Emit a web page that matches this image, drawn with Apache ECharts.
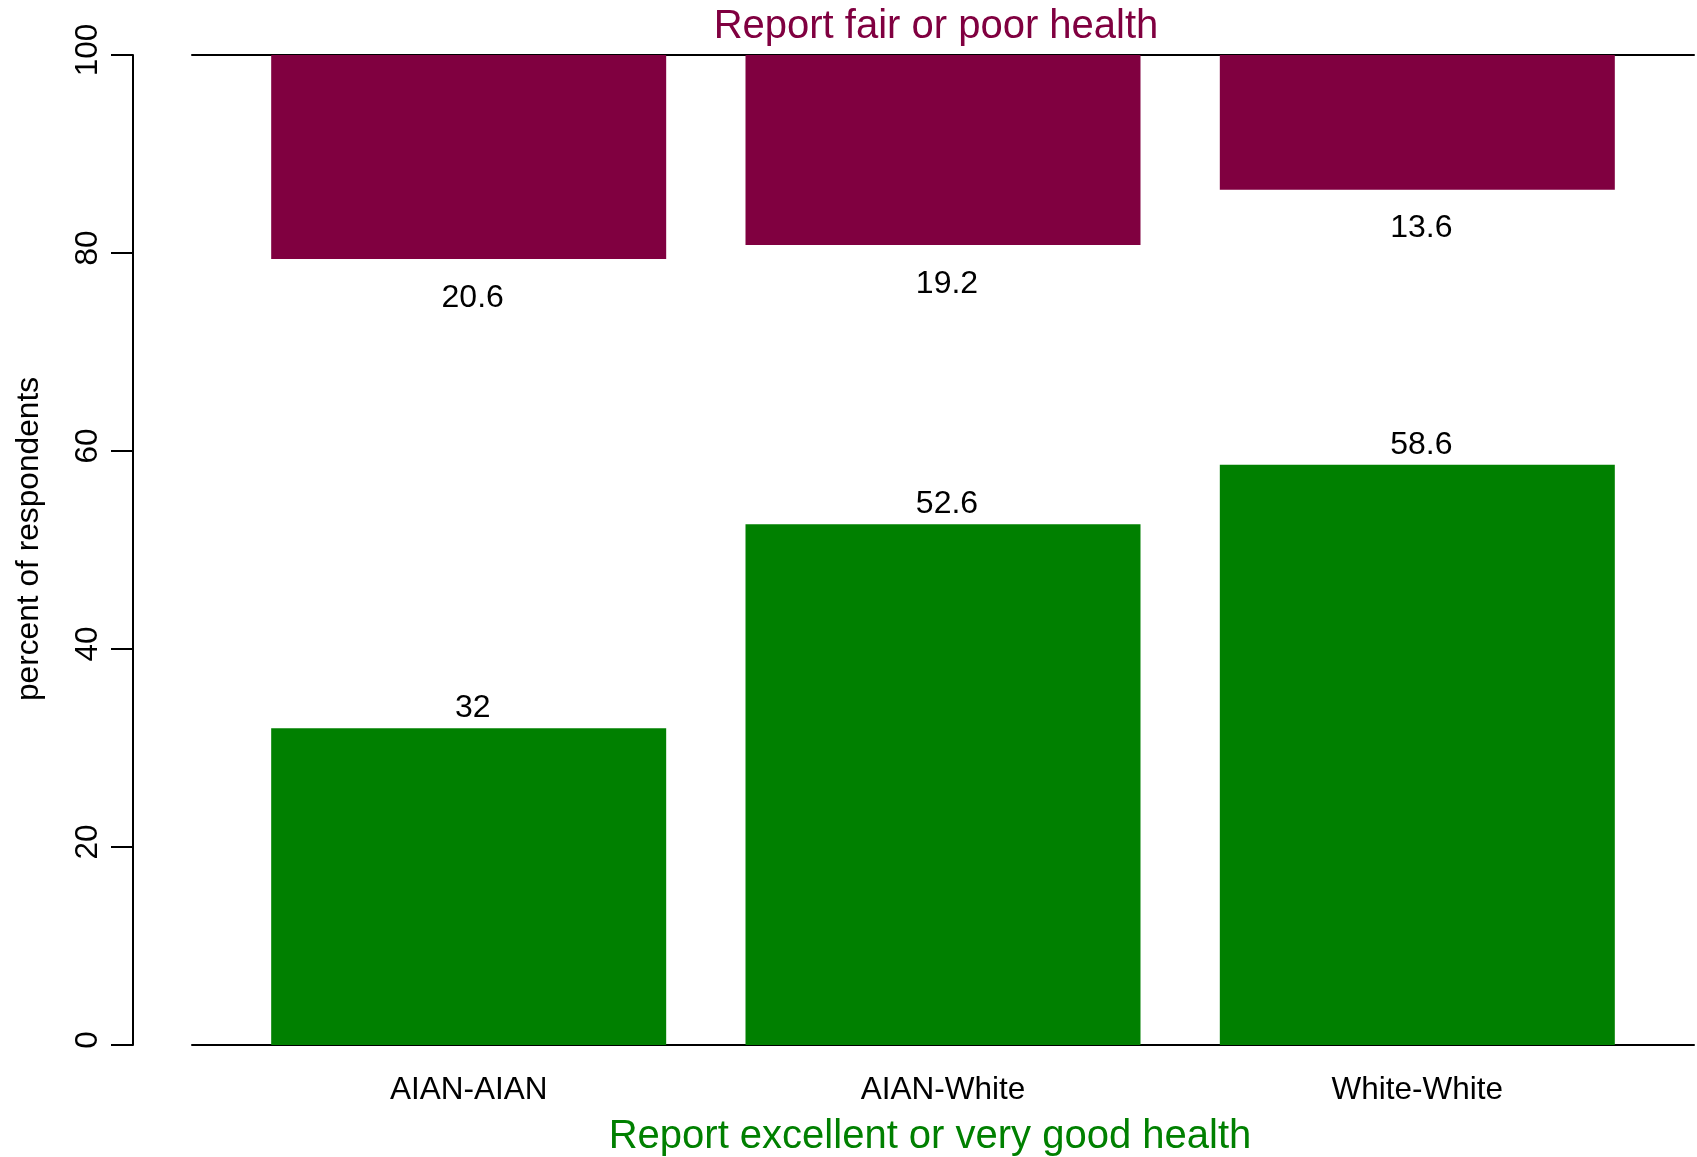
<!DOCTYPE html>
<html>
<head>
<meta charset="utf-8">
<script src="https://cdn.jsdelivr.net/npm/echarts@6/dist/echarts.min.js"></script>
<style>
html,body{margin:0;padding:0;background:#fff;}
#chart{width:1697px;height:1157px;}
</style>
</head>
<body>
<div id="chart"></div>
<script>
// ---- data ----
const categories = ['AIAN-AIAN', 'AIAN-White', 'White-White'];
const excellentVeryGood = [32, 52.6, 58.6];
const fairPoor = [20.6, 19.2, 13.6];
const yTickLabels = [0, 20, 40, 60, 80, 100];
const topTitle = 'Report fair or poor health';
const bottomTitle = 'Report excellent or very good health';
const yName = 'percent of respondents';

// barplot layout (space = 0.2 bar widths)
const SPACE = 0.2;
const barPos = categories.map((c, i) => SPACE + 0.5 + i * (1 + SPACE));
const xMax = categories.length * (1 + SPACE) + SPACE;

const FONT = "'Liberation Sans', Arial, sans-serif";
const MAROON = '#800040';
const GREEN = '#008000';

const chart = echarts.init(document.getElementById('chart'));
chart.setOption({
  animation: false,
  backgroundColor: '#fff',
  textStyle: { fontFamily: FONT },
  title: [
    { text: topTitle, left: 936, top: 7, textAlign: 'center', padding: 0,
      textStyle: { color: MAROON, fontSize: 40, fontWeight: 'normal', fontFamily: FONT } },
    { text: bottomTitle, left: 930, top: 1117, textAlign: 'center', padding: 0,
      textStyle: { color: GREEN, fontSize: 40, fontWeight: 'normal', fontFamily: FONT } }
  ],
  grid: { left: 192, right: 3, top: 55, bottom: 112, containLabel: false },
  xAxis: [
    {
      type: 'value', min: 0, max: xMax, position: 'bottom',
      splitLine: { show: false },
      axisLine: { show: true, onZero: false, lineStyle: { color: '#000', width: 2 } },
      axisTick: { show: false },
      axisLabel: {
        customValues: barPos,
        margin: 29,
        fontSize: 31.5, color: '#000', fontFamily: FONT,
        formatter: v => {
          const i = barPos.findIndex(p => Math.abs(p - v) < 1e-6);
          return i >= 0 ? categories[i] : '';
        }
      }
    },
    {
      type: 'value', min: 0, max: xMax, position: 'top',
      splitLine: { show: false },
      axisLine: { show: true, onZero: false, lineStyle: { color: '#000', width: 2 } },
      axisTick: { show: false },
      axisLabel: { show: false }
    }
  ],
  yAxis: [
    {
      type: 'value', min: 0, max: 100, interval: 20, position: 'left', offset: 59,
      splitLine: { show: false },
      axisLine: { show: true, onZero: false, lineStyle: { color: '#000', width: 2 } },
      axisTick: { show: true, length: 22, lineStyle: { color: '#000', width: 2 } },
      axisLabel: {
        rotate: 90, margin: 29, fontSize: 31.5, color: '#000', fontFamily: FONT,
        padding: [0, 0, 0, 10],
        formatter: v => String(yTickLabels[yTickLabels.indexOf(v)])
      },
      name: yName, nameLocation: 'middle', nameRotate: 90, nameGap: 88,
      nameTextStyle: { fontSize: 31.7, color: '#000', fontFamily: FONT, padding: [0, 0, 0, 22] }
    },
    {
      type: 'value', min: 0, max: 100, inverse: true, show: false,
      splitLine: { show: false }
    }
  ],
  series: [
    {
      type: 'bar', xAxisIndex: 0, yAxisIndex: 0,
      data: excellentVeryGood.map((v, i) => [barPos[i], v]),
      barWidth: 395, barGap: '-100%',
      itemStyle: { color: GREEN },
      label: {
        show: true, position: 'top', distance: 4, offset: [4, 0], fontSize: 32, color: '#000', fontFamily: FONT,
        formatter: p => String(p.value[1])
      }
    },
    {
      type: 'bar', xAxisIndex: 0, yAxisIndex: 1,
      data: fairPoor.map((v, i) => [barPos[i], v]),
      barWidth: 395, barGap: '-100%',
      itemStyle: { color: MAROON },
      label: {
        show: true, position: 'bottom', distance: 23, offset: [4, 0], fontSize: 32, color: '#000', fontFamily: FONT,
        formatter: p => String(p.value[1])
      }
    }
  ]
});
</script>
</body>
</html>
